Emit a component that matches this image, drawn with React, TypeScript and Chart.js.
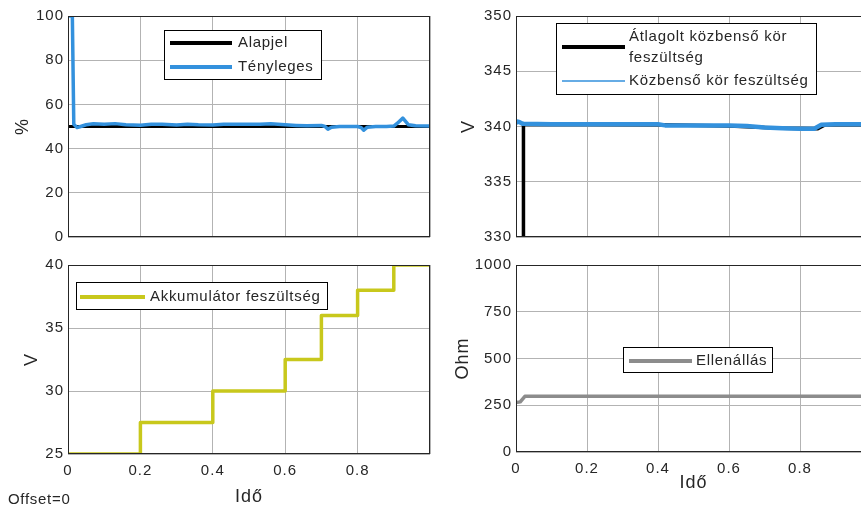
import React, { useEffect, useRef } from "react";
import { Chart, registerables } from "chart.js";

Chart.register(...registerables);

const FONT = '"Liberation Sans", Arial, Helvetica, sans-serif';
const TEXT = "#262626";
const GRID = "#b3b3b3";
const BLUE = "#3391dd";
const BLACK = "#000000";
const OLIVE = "#c8c81c";
const GRAY = "#8c8c8c";

// ---- shared x axis (Idő)
const xGridValues = [0, 0.2, 0.4, 0.6, 0.8, 1];
const xTickLabels = ["0", "0.2", "0.4", "0.6", "0.8", ""];

// ---- top-left: kitöltési tényező (%)
const dutyTicks = [0, 20, 40, 60, 80, 100];
const setpointTime = [0, 1];
const setpointValue = [50, 50];
const actualTime = [0, 0.012, 0.016, 0.025, 0.035, 0.05, 0.07, 0.1, 0.13, 0.16, 0.2, 0.23, 0.26, 0.3, 0.33, 0.36, 0.4, 0.43, 0.46, 0.5, 0.53, 0.56, 0.6, 0.63, 0.66, 0.7, 0.71, 0.718, 0.728, 0.75, 0.78, 0.8, 0.81, 0.817, 0.827, 0.85, 0.88, 0.9, 0.91, 0.925, 0.94, 0.96, 1.0];
const actualValue = [100, 100, 51, 49.5, 50, 50.8, 51.2, 51, 51.3, 50.8, 50.6, 51, 51, 50.7, 51, 50.8, 50.7, 51, 51, 51, 51, 51.2, 50.8, 50.5, 50.3, 50.5, 50, 48.8, 49.7, 50, 50, 50, 49.5, 48.3, 49.7, 50, 50, 50.2, 51.5, 53.8, 50.8, 50.3, 50.2];

// ---- top-right: közbenső kör feszültség (V)
const dcTicks = [330, 335, 340, 345, 350];
const dcAvgTime = [0, 0.02, 0.021, 0.4, 0.6, 0.75, 0.85, 0.87, 1];
const dcAvgValue = [320, 320, 340.2, 340.15, 340.05, 339.85, 339.8, 340.15, 340.15];
const dcTime = [0, 0.005, 0.01, 0.015, 0.02, 0.1, 0.2, 0.3, 0.4, 0.42, 0.5, 0.6, 0.65, 0.7, 0.75, 0.8, 0.84, 0.86, 0.9, 1.0];
const dcValue = [340.3, 340.45, 340.4, 340.3, 340.25, 340.2, 340.2, 340.2, 340.2, 340.1, 340.1, 340.1, 340.05, 339.9, 339.85, 339.8, 339.8, 340.15, 340.2, 340.2];

// ---- bottom-left: akkumulátor feszültség (V)
const battTicks = [25, 30, 35, 40];
const battTime = [0, 0.2, 0.4, 0.6, 0.7, 0.8, 0.9, 1];
const battValue = [25, 27.5, 30, 32.5, 36, 38, 40, 40];

// ---- bottom-right: ellenállás (Ohm)
const resTicks = [0, 250, 500, 750, 1000];
const resTime = [0, 0.012, 0.025, 1];
const resValue = [265, 268, 298, 298];

type DS = { label: string; xs: number[]; ys: number[]; color: string; width: number; order: number; stepped?: any };
type LegendItem = { ds: number; sample: [number, number]; sampleY: number; sampleW: number; textX: number; lines: string[]; lineYs: number[] };
type Cfg = {
  left: number; top: number; width: number; height: number;
  pad: { left: number; top: number; right: number; bottom: number };
  yWidth: number; xHeight: number; showX: boolean;
  yMin: number; yMax: number; yTicks: number[]; yTitle: string; yTitlePad: number;
  xTitle?: string; xTitlePad?: number;
  datasets: DS[];
  legendBox: [number, number, number, number];
  legend: LegendItem[];
};

const panels: Cfg[] = [
  {
    left: 0, top: 0, width: 440, height: 250,
    pad: { left: 0, top: 16, right: 10, bottom: 7 },
    yWidth: 68, xHeight: 0, showX: false,
    yMin: 0, yMax: 100, yTicks: dutyTicks, yTitle: "%", yTitlePad: 12,
    datasets: [
      { label: "Alapjel", xs: setpointTime, ys: setpointValue, color: BLACK, width: 3, order: 1 },
      { label: "Tényleges", xs: actualTime, ys: actualValue, color: BLUE, width: 3.5, order: 0 },
    ],
    legendBox: [164, 30, 322, 80],
    legend: [
      { ds: 0, sample: [170, 232], sampleY: 43, sampleW: 4, textX: 238, lines: ["Alapjel"], lineYs: [43] },
      { ds: 1, sample: [170, 232], sampleY: 67, sampleW: 4, textX: 238, lines: ["Tényleges"], lineYs: [67] },
    ],
  },
  {
    left: 436, top: 0, width: 444, height: 250,
    pad: { left: 0, top: 16, right: 9, bottom: 10 },
    yWidth: 80, xHeight: 0, showX: false,
    yMin: 330, yMax: 350, yTicks: dcTicks, yTitle: "V", yTitlePad: 22,
    datasets: [
      { label: "Átlagolt közbenső kör feszültség", xs: dcAvgTime, ys: dcAvgValue, color: BLACK, width: 3.5, order: 1 },
      { label: "Közbenső kör feszültség", xs: dcTime, ys: dcValue, color: BLUE, width: 4.5, order: 0 },
    ],
    legendBox: [120, 23, 381, 95],
    legend: [
      { ds: 0, sample: [126, 189], sampleY: 47, sampleW: 4, textX: 193, lines: ["Átlagolt közbenső kör", "feszültség"], lineYs: [37, 58] },
      { ds: 1, sample: [126, 189], sampleY: 81, sampleW: 1.6, textX: 193, lines: ["Közbenső kör feszültség"], lineYs: [81] },
    ],
  },
  {
    left: 0, top: 250, width: 440, height: 258,
    pad: { left: 0, top: 15, right: 10, bottom: 0 },
    yWidth: 68, xHeight: 54, showX: true,
    yMin: 25, yMax: 40, yTicks: battTicks, yTitle: "V", yTitlePad: 21,
    xTitle: "Idő", xTitlePad: 0,
    datasets: [
      { label: "Akkumulátor feszültség", xs: battTime, ys: battValue, color: OLIVE, width: 3.5, order: 0, stepped: "before" },
    ],
    legendBox: [76, 32, 328, 60],
    legend: [
      { ds: 0, sample: [80, 145], sampleY: 47, sampleW: 4, textX: 150, lines: ["Akkumulátor feszültség"], lineYs: [47] },
    ],
  },
  {
    left: 436, top: 250, width: 444, height: 258,
    pad: { left: 0, top: 15, right: 9, bottom: 0 },
    yWidth: 80, xHeight: 56, showX: true,
    yMin: 0, yMax: 1000, yTicks: resTicks, yTitle: "Ohm", yTitlePad: 16,
    xTitle: "Idő", xTitlePad: 14,
    datasets: [
      { label: "Ellenállás", xs: resTime, ys: resValue, color: GRAY, width: 3.5, order: 0 },
    ],
    legendBox: [187, 97, 337, 123],
    legend: [
      { ds: 0, sample: [193, 256], sampleY: 111, sampleW: 4, textX: 260, lines: ["Ellenállás"], lineYs: [111] },
    ],
  },
];

const spacingPlugin = {
  id: "spacing",
  beforeUpdate(chart: any) { chart.ctx.letterSpacing = "1px"; },
  beforeDraw(chart: any) { chart.ctx.letterSpacing = "1px"; },
};

function Panel({ cfg, idx }: { cfg: Cfg; idx: number }) {
  const ref = useRef<HTMLCanvasElement>(null);
  useEffect(() => {
    const canvas = ref.current!;
    const framePlugin = {
      id: "frame" + idx,
      afterDraw(chart: any) {
        const ctx = chart.ctx as CanvasRenderingContext2D;
        const a = chart.chartArea;
        ctx.save();
        (ctx as any).letterSpacing = "0.7px";
        ctx.strokeStyle = TEXT;
        ctx.lineWidth = 1;
        ctx.strokeRect(Math.round(a.left) + 0.5, Math.round(a.top) + 0.5, Math.round(a.right - a.left) - 1, Math.round(a.bottom - a.top) - 1);
        const [x1, y1, x2, y2] = cfg.legendBox;
        ctx.fillStyle = "#ffffff";
        ctx.fillRect(x1, y1, x2 - x1, y2 - y1);
        ctx.strokeStyle = "#000000";
        ctx.strokeRect(x1 + 0.5, y1 + 0.5, x2 - x1 - 1, y2 - y1 - 1);
        cfg.legend.forEach((it) => {
          const ds = cfg.datasets[it.ds];
          ctx.strokeStyle = ds.color;
          ctx.lineWidth = it.sampleW;
          ctx.beginPath();
          ctx.moveTo(it.sample[0], it.sampleY);
          ctx.lineTo(it.sample[1], it.sampleY);
          ctx.stroke();
          ctx.fillStyle = TEXT;
          ctx.font = `15px ${FONT}`;
          ctx.textBaseline = "middle";
          ctx.textAlign = "left";
          it.lines.forEach((ln, i) => ctx.fillText(ln, it.textX, it.lineYs[i]));
        });
        ctx.restore();
      },
    };
    const chart = new Chart(canvas, {
      type: "line",
      data: {
        datasets: cfg.datasets.map((d) => ({
          label: d.label,
          data: d.xs.map((x, i) => ({ x, y: d.ys[i] })),
          borderColor: d.color,
          backgroundColor: d.color,
          borderWidth: d.width,
          pointRadius: 0,
          tension: 0,
          fill: false,
          stepped: d.stepped ?? false,
          order: d.order,
          borderJoinStyle: "round" as const,
        })),
      },
      options: {
        animation: false,
        responsive: false,
        devicePixelRatio: 1,
        events: [],
        layout: { padding: cfg.pad },
        plugins: { legend: { display: false }, tooltip: { enabled: false } },
        scales: {
          x: {
            type: "linear",
            min: 0,
            max: 1,
            afterFit: (s: any) => { s.height = cfg.xHeight; },
            afterBuildTicks: (s: any) => { s.ticks = xGridValues.map((v) => ({ value: v })); },
            ticks: {
              display: cfg.showX,
              padding: 8,
              autoSkip: false,
              maxRotation: 0,
              color: TEXT,
              font: { family: FONT, size: 15 },
              callback: (_v: any, i: number) => xTickLabels[i],
            },
            grid: { color: GRID, lineWidth: 1, drawTicks: false },
            border: { display: false },
            title: cfg.xTitle
              ? { display: true, text: cfg.xTitle, color: TEXT, font: { family: FONT, size: 18 }, padding: { top: 0, bottom: cfg.xTitlePad ?? 0 } }
              : { display: false },
          },
          y: {
            type: "linear",
            min: cfg.yMin,
            max: cfg.yMax,
            afterFit: (s: any) => { s.width = cfg.yWidth; },
            afterBuildTicks: (s: any) => { s.ticks = cfg.yTicks.map((v) => ({ value: v })); },
            ticks: {
              padding: 4,
              color: TEXT,
              font: { family: FONT, size: 15 },
              callback: (_v: any, i: number) => String(cfg.yTicks[i]),
            },
            grid: { color: GRID, lineWidth: 1, drawTicks: false },
            border: { display: false },
            title: { display: true, text: cfg.yTitle, color: TEXT, font: { family: FONT, size: 18 }, padding: { top: cfg.yTitlePad, bottom: 0 } },
          },
        },
      } as any,
      plugins: [spacingPlugin, framePlugin],
    });
    return () => chart.destroy();
  }, []);
  return (
    <canvas
      ref={ref}
      width={cfg.width}
      height={cfg.height}
      style={{ position: "absolute", left: cfg.left, top: cfg.top, width: cfg.width, height: cfg.height }}
    />
  );
}

export default function App() {
  return (
    <div style={{ position: "fixed", left: 0, top: 0, width: 861, height: 508, overflow: "hidden", background: "#ffffff" }}>
      {panels.map((p, i) => (
        <Panel key={i} cfg={p} idx={i} />
      ))}
      <div
        style={{
          position: "absolute", left: 8, top: 490, fontFamily: FONT, fontSize: 15,
          lineHeight: "18px", letterSpacing: "0.7px", color: TEXT, whiteSpace: "nowrap",
        }}
      >
        Offset=0
      </div>
    </div>
  );
}
